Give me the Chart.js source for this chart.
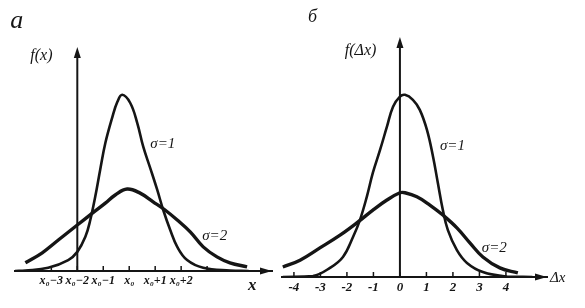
<!DOCTYPE html>
<html lang="ru">
<head>
  <meta charset="UTF-8" />
  <title>f(x) и f(Δx)</title>
  <script src="https://cdn.jsdelivr.net/npm/chart.js@4"></script>
  <style>
    body {
      margin: 0;
      background: #fff;
      width: 585px;
      height: 308px;
      overflow: hidden;
      position: relative;
    }
    .panel {
      position: absolute;
      left: 0;
      top: 0;
      width: 585px;
      height: 308px;
    }
  </style>
</head>
<body>
  <div class="panel"><canvas id="chartA"></canvas></div>
  <div class="panel"><canvas id="chartB"></canvas></div>
  <script>
    // панель а: кривые вокруг x0 (ось x в единицах от x0)
    const aX1 = [-4.4, -4.0, -3.12, -2.35, -2.0, -1.69, -1.5, -1.31, -1.12, -0.92, -0.65, -0.46, -0.27,
                 0.04, 0.31, 0.54, 0.81, 1.08, 1.31, 1.58, 1.85, 2.23, 2.85, 3.88, 4.6];
    const aY1 = [0, 0.001, 0.007, 0.024, 0.042, 0.075, 0.112, 0.163, 0.222, 0.281, 0.338, 0.371, 0.387,
                 0.369, 0.325, 0.273, 0.226, 0.178, 0.134, 0.090, 0.053, 0.024, 0.007, 0.001, 0];
    const aX2 = [-4.0, -3.35, -2.73, -2.0, -1.42, -0.92, -0.54, -0.08, 0.42, 0.92, 1.38, 1.85, 2.35,
                 2.85, 3.38, 3.88, 4.54];
    const aY2 = [0.018, 0.040, 0.068, 0.101, 0.127, 0.149, 0.167, 0.180, 0.171, 0.152, 0.134, 0.112, 0.086,
                 0.053, 0.031, 0.018, 0.009];
    const aTicks = [-3, -2, -1, 0, 1, 2, 3];
    const aTickLabels = ['x₀−3', 'x₀−2', 'x₀−1', 'x₀', 'x₀+1', 'x₀+2', ''];

    // панель б: кривые вокруг 0
    const bX1 = [-4.42, -3.28, -2.64, -2.15, -1.77, -1.51, -1.25, -1.02, -0.75, -0.49, -0.26, 0, 0.19,
                 0.49, 0.75, 1.02, 1.25, 1.43, 1.62, 1.81, 2.15, 2.53, 3.13, 4.04, 5.0];
    const bY1 = [0, 0.002, 0.020, 0.044, 0.088, 0.125, 0.176, 0.229, 0.279, 0.330, 0.374, 0.396, 0.400,
                 0.389, 0.367, 0.323, 0.264, 0.207, 0.147, 0.103, 0.059, 0.031, 0.011, 0.001, 0];
    const bX2 = [-4.42, -3.77, -3.02, -2.26, -1.58, -1.02, -0.49, 0, 0.19, 0.64, 1.13, 1.62, 2.15,
                 2.64, 3.13, 3.77, 4.45];
    const bY2 = [0.022, 0.037, 0.064, 0.092, 0.121, 0.147, 0.169, 0.185, 0.185, 0.176, 0.158, 0.136, 0.108,
                 0.075, 0.044, 0.020, 0.009];
    const bTicks = [-4, -3, -2, -1, 0, 1, 2, 3, 4];
    const bTickLabels = ['-4', '-3', '-2', '-1', '0', '1', '2', '3', '4'];

    const ink = '#151515';

    function pts(xs, ys) {
      return xs.map((x, i) => ({ x: x, y: ys[i] }));
    }

    function arrow(ctx, x, y, dir) {
      ctx.beginPath();
      if (dir === 'up') {
        ctx.moveTo(x, y);
        ctx.lineTo(x - 3.5, y + 11);
        ctx.lineTo(x + 3.5, y + 11);
      } else {
        ctx.moveTo(x, y);
        ctx.lineTo(x - 12, y - 3.5);
        ctx.lineTo(x - 12, y + 3.5);
      }
      ctx.closePath();
      ctx.fill();
    }

    // стрелки, вертикальная ось, засечки и подписи
    const decor = {
      id: 'decor',
      afterDraw(chart, args, opts) {
        const { ctx, chartArea: a, scales: { x, y } } = chart;
        const vx = x.getPixelForValue(opts.yAxisAt);
        const base = y.getPixelForValue(0);
        ctx.save();
        ctx.strokeStyle = ink;
        ctx.fillStyle = ink;
        ctx.lineWidth = 2;
        ctx.beginPath();
        ctx.moveTo(vx, base);
        ctx.lineTo(vx, a.top + 6);
        ctx.stroke();
        arrow(ctx, vx, a.top, 'up');
        arrow(ctx, a.right, base, 'right');
        ctx.lineWidth = 1.5;
        opts.marks.forEach(v => {
          const px = x.getPixelForValue(v);
          ctx.beginPath();
          ctx.moveTo(px, base);
          ctx.lineTo(px, base - 5);
          ctx.stroke();
        });
        ctx.textAlign = 'left';
        ctx.textBaseline = 'alphabetic';
        opts.texts.forEach(t => {
          ctx.font = t.font;
          ctx.fillText(t.s, x.getPixelForValue(t.x), y.getPixelForValue(t.y));
        });
        ctx.restore();
      }
    };

    function makeChart(id, sets, xMin, xMax, yMax, pad, ticks, labels, tickFont, decorOpts) {
      return new Chart(document.getElementById(id), {
        type: 'line',
        data: {
          datasets: sets.map(s => ({
            data: s.data,
            borderColor: ink,
            borderWidth: s.width,
            pointRadius: 0,
            fill: false,
            tension: 0.4
          }))
        },
        options: {
          responsive: true,
          maintainAspectRatio: false,
          animation: false,
          layout: { padding: pad },
          plugins: {
            legend: { display: false },
            tooltip: { enabled: false },
            decor: decorOpts
          },
          scales: {
            x: {
              type: 'linear',
              min: xMin,
              max: xMax,
              grid: { display: true, drawOnChartArea: false, drawTicks: false },
              border: { display: true, color: ink, width: 2 },
              afterBuildTicks: sc => { sc.ticks = ticks.map(v => ({ value: v })); },
              afterFit: sc => { sc.height = 30; },
              ticks: {
                autoSkip: false,
                maxRotation: 0,
                padding: 3,
                color: ink,
                font: tickFont,
                callback: v => labels[ticks.indexOf(v)]
              }
            },
            y: {
              type: 'linear',
              display: false,
              min: 0,
              max: yMax
            }
          }
        },
        plugins: [decor]
      });
    }

    makeChart('chartA',
      [{ data: pts(aX1, aY1), width: 2.6 }, { data: pts(aX2, aY2), width: 3.4 }],
      -4.4, 5.5, 0.492,
      { left: 15, right: 313, top: 47, bottom: 7 },
      aTicks, aTickLabels,
      { family: 'Liberation Serif', style: 'italic', weight: 'bold', size: 12 },
      {
        yAxisAt: -2,
        marks: aTicks,
        texts: [
          { s: 'a', x: -4.58, y: 0.534, font: 'italic 26px "Liberation Serif"' },
          { s: 'f(x)', x: -3.81, y: 0.464, font: 'italic 16px "Liberation Serif"' },
          { s: 'σ=1', x: 0.81, y: 0.27, font: 'italic 15px "Liberation Serif"' },
          { s: 'σ=2', x: 2.81, y: 0.068, font: 'italic 15px "Liberation Serif"' },
          { s: 'x', x: 4.58, y: -0.042, font: 'italic bold 17px "Liberation Serif"' }
        ]
      });

    makeChart('chartB',
      [{ data: pts(bX1, bY1), width: 2.6 }, { data: pts(bX2, bY2), width: 3.4 }],
      -4.45, 5.55, 0.527,
      { left: 282, right: 38, top: 37, bottom: 1 },
      bTicks, bTickLabels,
      { family: 'Liberation Serif', style: 'italic', weight: 'bold', size: 13 },
      {
        yAxisAt: 0,
        marks: bTicks,
        texts: [
          { s: 'б', x: -3.47, y: 0.56, font: 'italic 18px "Liberation Serif"' },
          { s: 'f(Δx)', x: -2.08, y: 0.488, font: 'italic 16px "Liberation Serif"' },
          { s: 'σ=1', x: 1.51, y: 0.279, font: 'italic 15px "Liberation Serif"' },
          { s: 'σ=2', x: 3.09, y: 0.055, font: 'italic 15px "Liberation Serif"' },
          { s: 'Δx', x: 5.66, y: -0.011, font: 'italic 15px "Liberation Serif"' }
        ]
      });
  </script>
</body>
</html>
